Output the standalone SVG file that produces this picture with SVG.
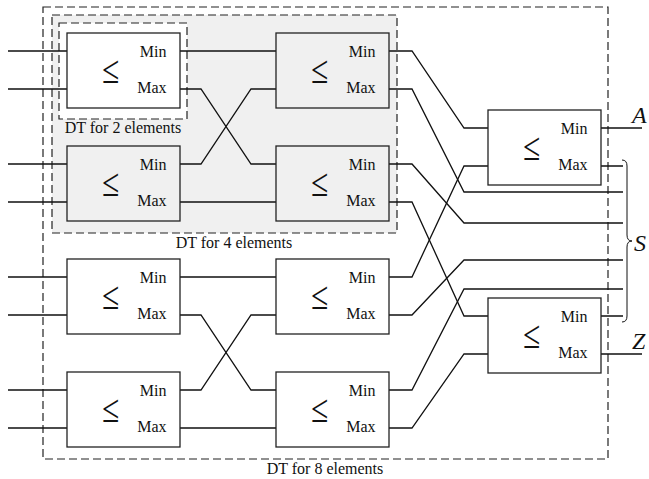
<svg xmlns="http://www.w3.org/2000/svg" width="649" height="479" viewBox="0 0 649 479">
<style>
.dash{fill:none;stroke:#222;stroke-width:1.2;stroke-dasharray:8,4}
.box{fill:none;stroke:#222;stroke-width:1.3}
.w{stroke:#111;stroke-width:1.3;fill:none}
text{font-family:'Liberation Serif','Times New Roman',serif;fill:#111}
.le{font-size:34px;text-anchor:middle}
.pt{font-size:16px;text-anchor:end}
.lab{font-size:16px;text-anchor:middle}
.big{font-size:24px;font-style:italic}
</style>
<g id="dt8">
<rect class="dash" x="43" y="7" width="565" height="452"/>
<text class="lab" x="325" y="474">DT for 8 elements</text>
</g>
<g id="dt4">
<rect class="dash" x="52" y="15" width="345" height="218" style="fill:#f0f0f0"/>
<text class="lab" x="234" y="248">DT for 4 elements</text>
</g>
<g id="dt2">
<rect class="dash" x="59" y="23" width="128" height="96" style="fill:#fff"/>
<text class="lab" x="123" y="133">DT for 2 elements</text>
</g>
<g id="connectors">
<path class="w" d="M8 51H67M8 89H67M8 164H67M8 202H67M8 277H67M8 315H67M8 390H67M8 428H67"/>
<path class="w" d="M180 51H276M180 89H201L251 164H276M180 164H201L251 89H276M180 202H276"/>
<path class="w" d="M180 277H276M180 315H201L251 390H276M180 390H201L251 315H276M180 428H276"/>
<path class="w" d="M389 51H412L464 128H488M389 89H412L464 192H623M389 164H412L464 223H623M389 202H412L464 316H488"/>
<path class="w" d="M389 277H412L464 166H488M389 315H412L464 260H623M389 390H412L464 289H623M389 428H412L464 354H488"/>
<path class="w" d="M601 128H642M601 166H623M601 316H623M601 354H642"/>
<path d="M622 160Q627 160 627 166L627 235Q627 241 632 241Q627 241 627 247L627 316Q627 322 622 322" fill="none" stroke="#111" stroke-width="1"/>
</g>
<g id="b1" transform="translate(67 33)"><rect class="box" width="113" height="75"/><text class="le" transform="translate(43.5 50) scale(0.92 1.15)">≤</text><text class="pt" x="99.5" y="24">Min</text><text class="pt" x="99.5" y="60">Max</text></g>
<g id="b2" transform="translate(276 33)"><rect class="box" width="113" height="75"/><text class="le" transform="translate(43.5 50) scale(0.92 1.15)">≤</text><text class="pt" x="99.5" y="24">Min</text><text class="pt" x="99.5" y="60">Max</text></g>
<g id="b3" transform="translate(67 146)"><rect class="box" width="113" height="75"/><text class="le" transform="translate(43.5 50) scale(0.92 1.15)">≤</text><text class="pt" x="99.5" y="24">Min</text><text class="pt" x="99.5" y="60">Max</text></g>
<g id="b4" transform="translate(276 146)"><rect class="box" width="113" height="75"/><text class="le" transform="translate(43.5 50) scale(0.92 1.15)">≤</text><text class="pt" x="99.5" y="24">Min</text><text class="pt" x="99.5" y="60">Max</text></g>
<g id="b5" transform="translate(67 259)"><rect class="box" width="113" height="75"/><text class="le" transform="translate(43.5 50) scale(0.92 1.15)">≤</text><text class="pt" x="99.5" y="24">Min</text><text class="pt" x="99.5" y="60">Max</text></g>
<g id="b6" transform="translate(276 259)"><rect class="box" width="113" height="75"/><text class="le" transform="translate(43.5 50) scale(0.92 1.15)">≤</text><text class="pt" x="99.5" y="24">Min</text><text class="pt" x="99.5" y="60">Max</text></g>
<g id="b7" transform="translate(67 372)"><rect class="box" width="113" height="75"/><text class="le" transform="translate(43.5 50) scale(0.92 1.15)">≤</text><text class="pt" x="99.5" y="24">Min</text><text class="pt" x="99.5" y="60">Max</text></g>
<g id="b8" transform="translate(276 372)"><rect class="box" width="113" height="75"/><text class="le" transform="translate(43.5 50) scale(0.92 1.15)">≤</text><text class="pt" x="99.5" y="24">Min</text><text class="pt" x="99.5" y="60">Max</text></g>
<g id="r1" transform="translate(488 110)"><rect class="box" width="113" height="75"/><text class="le" transform="translate(43.5 50) scale(0.92 1.15)">≤</text><text class="pt" x="99.5" y="24">Min</text><text class="pt" x="99.5" y="60">Max</text></g>
<g id="r2" transform="translate(488 298)"><rect class="box" width="113" height="75"/><text class="le" transform="translate(43.5 50) scale(0.92 1.15)">≤</text><text class="pt" x="99.5" y="24">Min</text><text class="pt" x="99.5" y="60">Max</text></g>
<g id="outA"><text class="big" x="632" y="123">A</text></g>
<g id="outS"><text class="big" x="634" y="251">S</text></g>
<g id="outZ"><text class="big" x="632" y="349">Z</text></g>
</svg>
